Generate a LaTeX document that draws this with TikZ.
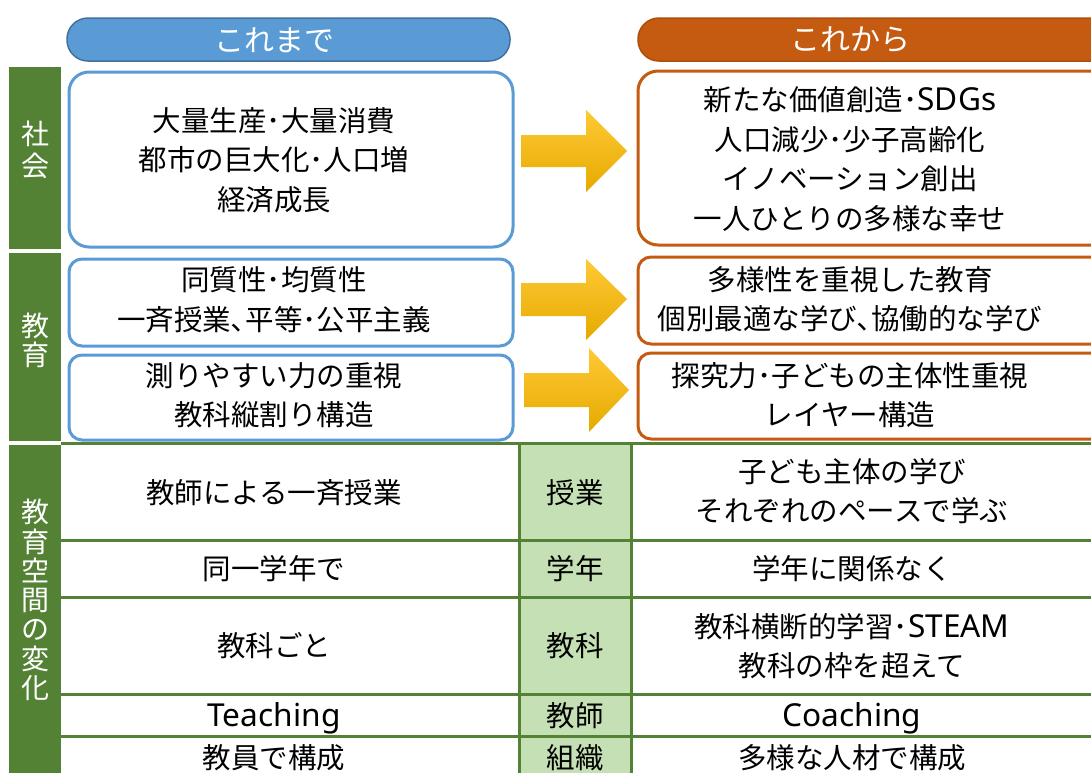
\documentclass[tikz,border=0pt]{standalone}
\usepackage{fontspec}
\setmainfont{Noto Sans CJK JP}
\newfontfamily\lat{Noto Sans}[Scale=1.11]
\newcommand{\dt}{･}
\newcommand{\cm}{､}
\definecolor{hblue}{HTML}{5B9BD5}
\definecolor{hblueD}{HTML}{41719C}
\definecolor{horange}{HTML}{C55A11}
\definecolor{horangeD}{HTML}{AE4E0E}
\definecolor{gdark}{HTML}{548235}
\definecolor{glight}{HTML}{C5E0B4}
\definecolor{arrTop}{HTML}{FFC936}
\definecolor{arrBot}{HTML}{E5AA00}
\begin{document}
\begin{tikzpicture}[x=1pt,y=-1pt,
  txt/.style={font=\fontsize{28.5}{39.5}\selectfont, align=center, inner sep=0pt, text=black},
  htxt/.style={font=\fontsize{30}{32}\selectfont, text=white, inner sep=0pt},
  vtxt/.style={font=\fontsize{28}{#1}\selectfont, text=white, align=center, inner sep=0pt},
  oldbox/.style={draw=hblue, line width=3pt, rounded corners=#1, fill=white},
  newbox/.style={draw=horange, line width=3pt, rounded corners=#1, fill=white},
  grline/.style={draw=gdark, line width=3pt},
  bigarrow/.style={top color=arrTop, bottom color=arrBot, draw=none}
]
\clip (0,0) rectangle (1091,772);
\fill[white] (0,0) rectangle (1091,772);

% headers
\draw[fill=hblue, draw=hblueD, line width=1.5pt, rounded corners=21pt] (67,18) rectangle (510,61);
\draw[fill=horange, draw=horangeD, line width=1.5pt, rounded corners=21pt] (638,18) rectangle (1120,61);
\node[htxt] (hOld) at (274,40) {これまで};
\node[htxt] (hNew) at (850,40) {これから};

% left green column
\fill[gdark] (9,67) rectangle (61,249);
\fill[gdark] (9,253) rectangle (61,441);
\fill[gdark] (9,445) rectangle (61,780);
\node[vtxt=32] (lSoc) at (35,150) {社\\会};
\node[vtxt=29] (lEdu) at (35,340) {教\\育};
\node[vtxt=29.3] (lSpace) at (35,600) {教\\育\\空\\間\\の\\変\\化};

% society row
\draw[oldbox=20pt] (69,72) rectangle (513,247);
\draw[newbox=20pt] (638,71) rectangle (1120,245);
\node[txt] (o1) at (274,160) {大量生産\dt 大量消費\\都市の巨大化\dt 人口増\\経済成長};
\node[txt] (n1) at (850,159) {新たな価値創造\dt{\lat SDGs}\\人口減少\dt 少子高齢化\\イノベーション創出\\一人ひとりの多様な幸せ};
\shade[bigarrow] (521,135) -- (586,135) -- (586,110) -- (627,151) -- (586,192) -- (586,167) -- (521,167) -- cycle;

% education rows
\draw[oldbox=13pt] (69,259) rectangle (513,346);
\draw[newbox=13pt] (638,257) rectangle (1120,344);
\node[txt] (o2) at (274,300) {同質性\dt 均質性\\一斉授業\cm 平等\dt 公平主義};
\node[txt] (n2) at (850,299) {多様性を重視した教育\\個別最適な学び\cm 協働的な学び};
\shade[bigarrow] (521,283) -- (586,283) -- (586,259) -- (627,299) -- (586,340) -- (586,316) -- (521,316) -- cycle;

\draw[oldbox=13pt] (69,355) rectangle (513,440);
\draw[newbox=13pt] (638,353) rectangle (1120,439);
\node[txt] (o3) at (274,395) {測りやすい力の重視\\教科縦割り構造};
\node[txt] (n3) at (850,395) {探究力\dt 子どもの主体性重視\\レイヤー構造};
\shade[bigarrow] (524,373) -- (589,373) -- (589,348) -- (629,390) -- (589,432) -- (589,407) -- (524,407) -- cycle;

% table
\fill[glight] (519,443) rectangle (631,780);
\draw[grline] (61,443) -- (1091,443);
\draw[grline] (61,540) -- (1091,540);
\draw[grline] (61,597) -- (1091,597);
\draw[grline] (61,694) -- (1091,694);
\draw[grline] (61,736) -- (1091,736);
\draw[grline] (519,443) -- (519,780);
\draw[grline] (631,443) -- (631,780);

\node[txt] (r1a) at (274,493) {教師による一斉授業};
\node[txt] (r1b) at (575,493) {授業};
\node[txt] (r1c) at (852,491) {子ども主体の学び\\それぞれのペースで学ぶ};
\node[txt] (r2a) at (274,569) {同一学年で};
\node[txt] (r2b) at (575,569) {学年};
\node[txt] (r2c) at (852,569) {学年に関係なく};
\node[txt] (r3a) at (274,646) {教科ごと};
\node[txt] (r3b) at (575,646) {教科};
\node[txt] (r3c) at (852,646) {教科横断的学習\dt{\lat STEAM}\\教科の枠を超えて};
\node[txt] (r4a) at (274,718) {\lat Teaching};
\node[txt] (r4b) at (575,716) {教師};
\node[txt] (r4c) at (852,718) {\lat Coaching};
\node[txt] (r5a) at (274,758) {教員で構成};
\node[txt] (r5b) at (575,758) {組織};
\node[txt] (r5c) at (852,758) {多様な人材で構成};
\end{tikzpicture}
\end{document}
